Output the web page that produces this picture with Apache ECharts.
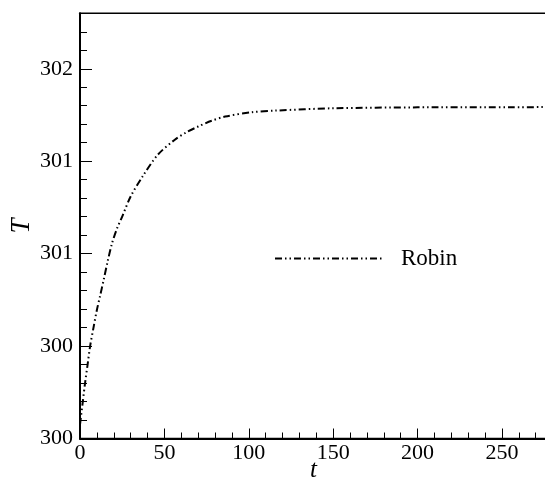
<!DOCTYPE html>
<html>
<head>
<meta charset="utf-8">
<script src="https://cdn.jsdelivr.net/npm/echarts@6/dist/echarts.min.js"></script>
<style>html,body{margin:0;padding:0;background:#fff}#c{width:545px;height:480px}</style>
</head>
<body>
<div id="c"></div>
<script>
const seriesName = 'Robin';
const tValues = [0, 1.5, 3, 4.5, 6, 8, 10, 12, 14, 16.5, 19, 22, 25, 30, 37, 46, 56, 63, 70, 78, 86, 102, 116, 150, 200, 275];
const tempValues = [300.06, 300.15, 300.24, 300.32, 300.40, 300.48, 300.556, 300.62, 300.686, 300.77, 300.845, 300.91, 300.96, 301.047, 301.133, 301.227, 301.292, 301.325, 301.35, 301.375, 301.393, 301.412, 301.419, 301.429, 301.433, 301.434];
const yTickLabels = ['300', '300', '301', '301', '302'];
const xTickLabels = ['0', '50', '100', '150', '200', '250'];

const yMin = 300, yStep = 0.4, xStep = 50;
const data = tValues.map((t, i) => [t, tempValues[i]]);
const serif = 'Liberation Serif, Times New Roman, serif';

const chart = echarts.init(document.getElementById('c'), null, {renderer: 'canvas'});
chart.setOption({
  animation: false,
  backgroundColor: '#fff',
  grid: {left: 80, top: 13.3, right: -2, bottom: 41.5, containLabel: false, outerBoundsMode: 'none',
         show: true, borderColor: '#000', borderWidth: 1.5, backgroundColor: 'transparent'},
  legend: {
    show: true,
    left: 269, top: 242,
    itemWidth: 107, itemHeight: 20,
    data: [seriesName],
    itemStyle: {opacity: 0},
    lineStyle: {width: 2},
    textStyle: {fontFamily: serif, fontSize: 23, color: '#000', padding: [0, 0, 0, 14]}
  },
  xAxis: {
    type: 'value', min: 0, max: 276.7, interval: xStep,
    name: 't', nameLocation: 'middle', nameGap: 19, nameMoveOverlap: false,
    nameTextStyle: {fontFamily: serif, fontStyle: 'italic', fontSize: 25, color: '#000'},
    axisLine: {show: true, lineStyle: {color: '#000', width: 2}},
    axisTick: {show: true, inside: true, length: 10, lineStyle: {color: '#000', width: 1}},
    minorTick: {show: true, splitNumber: 5, length: 6, lineStyle: {color: '#000', width: 1}},
    splitLine: {show: false},
    axisLabel: {
      show: true, margin: 4, showMaxLabel: false,
      fontFamily: serif, fontSize: 22, color: '#000',
      formatter: v => { const i = Math.round(v / xStep); return Math.abs(v - i * xStep) < 1e-6 && xTickLabels[i] !== undefined ? xTickLabels[i] : ''; }
    }
  },
  yAxis: {
    type: 'value', min: yMin, max: 301.84, interval: yStep,
    name: 'T', nameLocation: 'middle', nameGap: 45, nameRotate: 90, nameMoveOverlap: false,
    nameTextStyle: {fontFamily: serif, fontStyle: 'italic', fontSize: 27, color: '#000'},
    axisLine: {show: true, lineStyle: {color: '#000', width: 2}},
    axisTick: {show: true, inside: true, length: 12, lineStyle: {color: '#000', width: 1}},
    minorTick: {show: true, splitNumber: 5, length: 7, lineStyle: {color: '#000', width: 1}},
    splitLine: {show: false},
    axisLabel: {
      show: true, margin: 7, showMaxLabel: false,
      fontFamily: serif, fontSize: 22, color: '#000',
      formatter: v => { const i = Math.round((v - yMin) / yStep); return Math.abs(v - (yMin + i * yStep)) < 1e-6 && yTickLabels[i] !== undefined ? yTickLabels[i] : ''; }
    }
  },
  series: [{
    name: seriesName, type: 'line', data: data,
    showSymbol: false, symbol: 'none', smooth: 0.3,
    lineStyle: {color: '#000', width: 2, type: [7, 3, 1.5, 3, 1.5, 3]},
    itemStyle: {color: '#000'}
  }]
});
</script>
</body>
</html>
